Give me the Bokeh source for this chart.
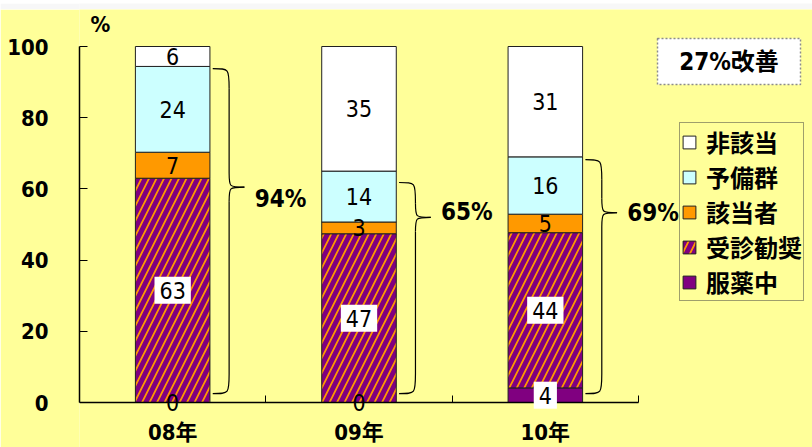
import numpy as np
from bokeh.plotting import figure
from bokeh.models import (Range1d, FixedTicker, Label, Legend, LegendItem)
from bokeh.layouts import column
from bokeh.embed import file_html
from bokeh.resources import INLINE
from bokeh.core.properties import value

# ---------------- data ----------------
years = ["08年", "09年", "10年"]
series = ["服薬中", "受診勧奨", "該当者", "予備群", "非該当"]
fukuyaku = [0.0, 0.0, 4.1]      # 服薬中
jushin = [63.0, 47.4, 43.6]     # 受診勧奨
gaitou = [7.3, 3.3, 5.2]        # 該当者
yobi = [24.1, 14.3, 16.1]       # 予備群
higaitou = [5.6, 35.0, 31.0]    # 非該当
brace_pct = ["94%", "65%", "69%"]
brace_top = [93.8, 61.8, 68.2]
brace_tip = [60.5, 52.0, 53.3]
brace_label_y = [57.3, 53.4, 53.2]
improve_text = "27%改善"
y_ticks = [0, 20, 40, 60, 80, 100]

# ---------------- styles ----------------
BG = "#FFFF99"
NARROW = "Liberation Sans Narrow, DejaVu Sans Condensed, Liberation Sans, Noto Sans CJK JP"
CJK = "Noto Sans CJK JP"
colors = ["#800080", "#FF9900", "#FF9900", "#CCFFFF", "#FFFFFF"]
hatches = [" ", "/", " ", " ", " "]
values = [fukuyaku, jushin, gaitou, yobi, higaitou]

xs = [0.5, 1.5, 2.5]
H = 438
px_per_x = (638 - 79) / 3.0
x_end = (812 - 79) / px_per_x
px_per_y = (402 - 46) / 100.0
y0_px = 393                      # pixel row of y=0 inside the main figure
y_end = y0_px / px_per_y
y_start = -(H - y0_px) / px_per_y

# ---------------- top strip ----------------
top = figure(width=812, height=9, x_range=Range1d(0, 812), y_range=Range1d(0, 9),
             output_backend="svg", toolbar_location=None,
             x_axis_type=None, y_axis_type=None,
             min_border=0, min_border_left=0, min_border_right=0,
             min_border_top=0, min_border_bottom=0)
top.background_fill_color = "#F7F7F8"
top.border_fill_color = "#F7F7F8"
top.outline_line_color = None
top.grid.visible = False

# ---------------- main ----------------
p = figure(width=812, height=H, x_range=Range1d(0, x_end), y_range=Range1d(y_start, y_end),
           output_backend="svg", toolbar_location=None,
           min_border_left=79, min_border_right=0, min_border_top=0, min_border_bottom=0)
p.background_fill_color = BG
p.border_fill_color = BG
p.outline_line_color = None
p.grid.visible = False

renderers = []
bottoms = np.zeros(3)
for name, vals, col, hat in zip(series, values, colors, hatches):
    v = np.array(vals)
    tops = bottoms + v
    kw = {}
    if hat != " ":
        kw = dict(hatch_pattern=hat, hatch_color="#800080", hatch_scale=15, hatch_weight=5)
    r = p.vbar(x=xs, width=0.4, bottom=list(bottoms), top=list(tops),
               fill_color=col, line_color="#202020", line_width=1, **kw)
    renderers.append((name, r))
    for xi, b, t, val in zip(xs, bottoms, tops, vals):
        txt = f"{val:.0f}"
        boxed = name in ("受診勧奨", "服薬中") and val > 0
        lab = Label(x=xi, y=(b + t) / 2, text=txt, text_align="center",
                    text_baseline="middle", text_font=NARROW, text_font_size="23px",
                    text_color="black")
        if boxed:
            lab.background_fill_color = "white"
            lab.padding = 5
        p.add_layout(lab)
    bottoms = tops

# braces
x0s, y0s, x1s, y1s, cx0s, cy0s, cx1s, cy1s = ([] for _ in range(8))
seg_x0, seg_y0, seg_x1, seg_y1 = [], [], [], []
ybot = 2.5
r_hook = 5.5
r_tip = 4.0
for xi, yt, ytip in zip(xs, brace_top, brace_tip):
    xl = xi + 0.215
    xv = xi + 0.303
    xt = xi + 0.385
    curves = [
        ((xl, yt), (xv, yt - r_hook), (xv, yt)),
        ((xv, ytip + r_tip), (xt, ytip), (xv, ytip)),
        ((xt, ytip), (xv, ytip - r_tip), (xv, ytip)),
        ((xv, ybot + r_hook), (xl, ybot), (xv, ybot)),
    ]
    for (a, b, c) in curves:
        x0s.append(a[0]); y0s.append(a[1]); x1s.append(b[0]); y1s.append(b[1])
        cx0s.append(c[0]); cy0s.append(c[1]); cx1s.append(c[0]); cy1s.append(c[1])
    seg_x0 += [xv, xv]; seg_y0 += [yt - r_hook, ytip - r_tip]
    seg_x1 += [xv, xv]; seg_y1 += [ytip + r_tip, ybot + r_hook]
p.bezier(x0=x0s, y0=y0s, x1=x1s, y1=y1s, cx0=cx0s, cy0=cy0s, cx1=cx1s, cy1=cy1s,
         line_color="black", line_width=1.2)
p.segment(x0=seg_x0, y0=seg_y0, x1=seg_x1, y1=seg_y1, line_color="black", line_width=1.2)
for xi, yl, txt in zip(xs, brace_label_y, brace_pct):
    p.add_layout(Label(x=xi + 0.44, y=yl, text=txt, text_align="left", text_baseline="middle",
                       text_font=NARROW, text_font_size="24px", text_font_style="bold",
                       text_color="black"))

# improvement box
bx_l = (657 - 79) / px_per_x
bx_r = (800 - 79) / px_per_x
bx_t = (y0_px - 29) / px_per_y
bx_b = (y0_px - 75) / px_per_y
p.quad(left=[bx_l], right=[bx_r], top=[bx_t], bottom=[bx_b], fill_color="white",
       line_color="#8C8C8C", line_dash="2 2", line_width=1.5)
p.add_layout(Label(x=(bx_l + bx_r) / 2, y=(bx_t + bx_b) / 2, text=improve_text,
                   text_align="center", text_baseline="middle", text_font=NARROW,
                   text_font_size="24px", text_font_style="bold", text_color="black"))

# % unit label
p.add_layout(Label(x=(100 - 79) / px_per_x, y=(y0_px - 15) / px_per_y, text="%",
                   text_align="center", text_baseline="middle", text_font=NARROW,
                   text_font_size="22px", text_font_style="bold", text_color="black"))

# axes
ya = p.yaxis[0]
ya.ticker = FixedTicker(ticks=y_ticks)
ya.bounds = (0, 100)
ya.major_tick_in = 8
ya.major_tick_out = 0
ya.minor_tick_in = 0
ya.minor_tick_out = 0
ya.axis_line_color = "black"
ya.axis_line_width = 1.5
ya.major_tick_line_color = "black"
ya.major_label_standoff = 31
ya.major_label_text_font = NARROW
ya.major_label_text_font_size = "22px"
ya.major_label_text_font_style = "bold"
ya.major_label_text_color = "black"

xa = p.xaxis[0]
xa.fixed_location = 0
xa.ticker = FixedTicker(ticks=xs, minor_ticks=[1, 2, 3])
xa.bounds = (0, 3)
xa.major_label_overrides = {x: y for x, y in zip(xs, years)}
xa.major_tick_in = 0
xa.major_tick_out = 0
xa.minor_tick_in = 7
xa.minor_tick_out = 0
xa.minor_tick_line_color = "black"
xa.axis_line_color = "black"
xa.axis_line_width = 1.5
xa.major_label_standoff = 17
xa.major_label_text_font = NARROW
xa.major_label_text_font_size = "22px"
xa.major_label_text_font_style = "bold"
xa.major_label_text_color = "black"

# legend
items = [LegendItem(label=name, renderers=[r]) for name, r in reversed(renderers)]
legend = Legend(items=items, location=(600, H - 292), orientation="vertical",
                glyph_width=16, glyph_height=16, label_standoff=9, padding=1,
                spacing=-2, margin=0, label_text_font=CJK, label_text_font_size="24px",
                label_text_font_style="bold", label_text_color="black",
                border_line_color="#404040", border_line_width=1.2,
                background_fill_alpha=0)
p.add_layout(legend)

layout = column(top, p, spacing=0)
open("out.html", "w").write(file_html(layout, INLINE))
